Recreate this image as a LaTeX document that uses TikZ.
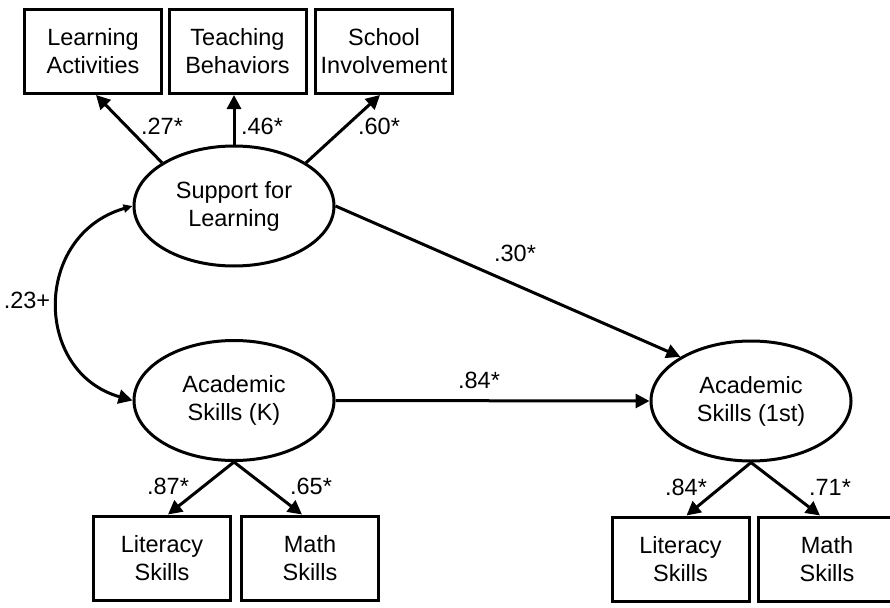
\documentclass[tikz,border=0pt]{standalone}
\usepackage{fontspec}
\setmainfont{Liberation Sans}
\usetikzlibrary{shapes.geometric,arrows.meta,calc}
\begin{document}
\begin{tikzpicture}[x=1pt,y=-1pt,
  every node/.style={font=\fontsize{23.5}{28}\selectfont},
  obs/.style={draw,line width=3pt,rectangle,minimum width=137pt,minimum height=84pt,inner sep=0pt,align=center},
  lat/.style={draw,line width=3pt,ellipse,minimum width=200pt,minimum height=120pt,inner sep=0pt,align=center},
  arr/.style={line width=3pt,-{Triangle[length=14pt,width=14pt]}},
  lbl/.style={inner sep=0pt}]
\useasboundingbox (0,0) rectangle (890,607);
% observed indicators
\node[obs] (LA) at (93,51.5) {Learning\\Activities};
\node[obs] (TB) at (237.5,51.5) {Teaching\\Behaviors};
\node[obs] (SI) at (384,51.5) {School\\Involvement};
\node[obs] (LitK) at (162,558) {Literacy\\Skills};
\node[obs] (MathK) at (310,558) {Math\\Skills};
\node[obs] (Lit1) at (680.5,559) {Literacy\\Skills};
\node[obs] (Math1) at (827,559) {Math\\Skills};
% latent
\node[lat] (sup) at (234,206) {Support for\\Learning};
\node[lat] (acK) at (234,400.5) {Academic\\Skills (K)};
\node[lat] (ac1) at (751,401) {Academic\\Skills (1st)};
% arrows
\draw[arr] (sup.149) -- ($(LA.south)+(3,0)$);
\draw[arr] (sup.north) -- (sup.north |- TB.south);
\draw[arr] (sup.31) -- ($(SI.south)+(-4,0)$);
\draw[arr] (sup.east) -- (ac1.148);
\draw[arr] (acK.east) -- (ac1.west);
\draw[arr] (acK.south) -- ($(LitK.north)+(6,0)$);
\draw[arr] (acK.south) -- ($(MathK.north)+(-8,0)$);
\draw[arr] (ac1.south) -- ($(Lit1.north)+(6,0)$);
\draw[arr] (ac1.south) -- ($(Math1.north)+(-7,0)$);
\draw[line width=3pt,{Triangle[length=9pt,width=8pt]}-{Triangle[length=14pt,width=14pt]}]
  (sup.west) .. controls (33,235) and (33,372) .. (acK.west);
% labels
\node[lbl] (l27) at (162,126) {.27*};
\node[lbl] (l46) at (262,126) {.46*};
\node[lbl] (l60) at (379,126) {.60*};
\node[lbl] (l30) at (515,253) {.30*};
\node[lbl] (l84a) at (479,380) {.84*};
\node[lbl] (l23) at (27,300) {.23+};
\node[lbl] (l87) at (168,486) {.87*};
\node[lbl] (l65) at (311,486) {.65*};
\node[lbl] (l84b) at (686,487) {.84*};
\node[lbl] (l71) at (830,487) {.71*};
\end{tikzpicture}
\end{document}
